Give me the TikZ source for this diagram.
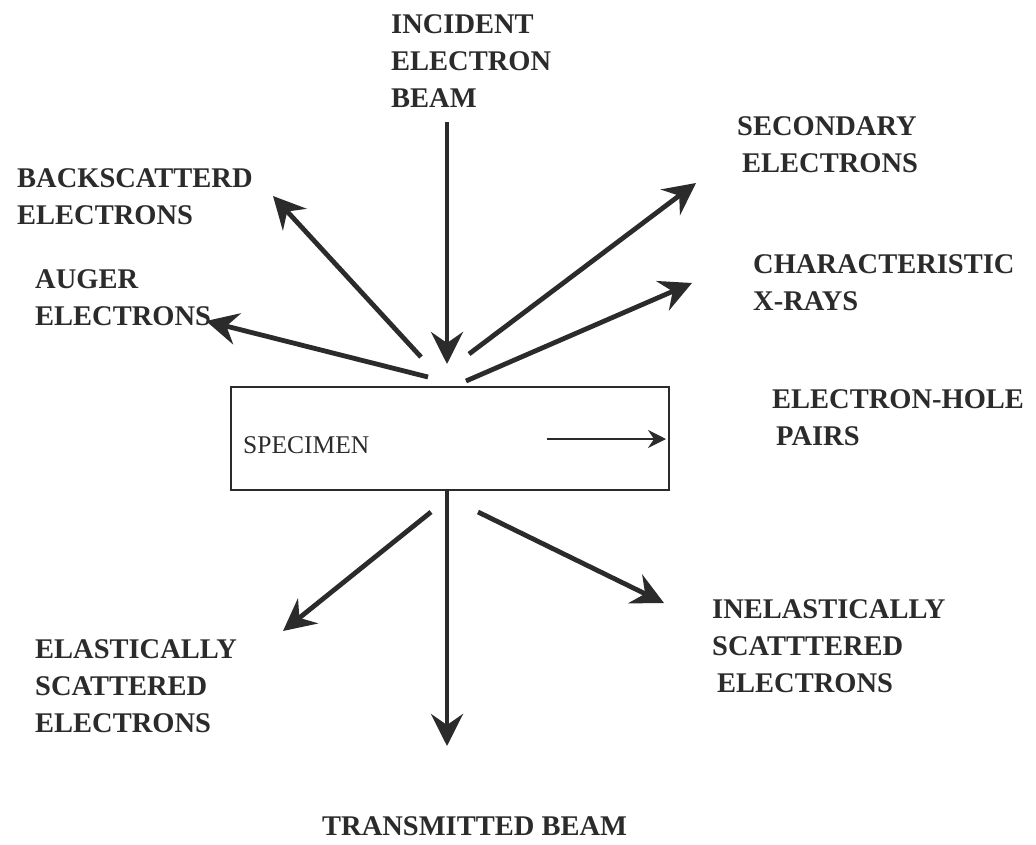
\documentclass[tikz,border=0pt]{standalone}
\usepackage{fontspec}
\setmainfont{Liberation Serif}
\usetikzlibrary{arrows.meta}
\definecolor{ink}{HTML}{2B2B2B}
\tikzset{
  lbl/.style={anchor=north west, inner sep=0pt, align=left, text=ink,
    font=\fontsize{28.5}{37}\selectfont\bfseries},
  ray/.style={draw=ink, line width=4.8pt,
    -{Stealth[length=32pt,width=32pt,inset=11pt]}},
  thin arrow/.style={draw=ink, line width=1.6pt,
    -{Stealth[length=18pt,width=18pt,inset=6pt]}},
  specbox/.style={draw=ink, line width=1.5pt, minimum width=438pt,
    minimum height=103pt, anchor=north west, inner sep=0pt},
}
\begin{document}
\begin{tikzpicture}[x=1pt,y=-1pt]
\useasboundingbox[fill=white] (0,0) rectangle (1036,844);
% specimen
\node[specbox] (spec) at (230,386) {};
\node[anchor=base west, inner sep=0pt, text=ink,
  font=\fontsize{25.5}{30}\selectfont] (spectext) at (243,453) {SPECIMEN};
% labels
\node[lbl] (incident) at (391,14) {INCIDENT\\ELECTRON\\BEAM};
\node[lbl] (secondary) at (737,116) {SECONDARY\\\hspace*{5pt}ELECTRONS};
\node[lbl] (backsc) at (17,168) {BACKSCATTERD\\ELECTRONS};
\node[lbl] (charac) at (753,254) {CHARACTERISTIC\\X-RAYS};
\node[lbl] (auger) at (35,269) {AUGER\\ELECTRONS};
\node[lbl] (ehp) at (772,389) {ELECTRON-HOLE\\\hspace*{4pt}PAIRS};
\node[lbl] (inel) at (712,599) {INELASTICALLY\\SCATTTERED\\\hspace*{5pt}ELECTRONS};
\node[lbl] (elast) at (35,639) {ELASTICALLY\\SCATTERED\\ELECTRONS};
\node[lbl] (trans) at (322,816) {TRANSMITTED BEAM};
% end points
\coordinate (inS) at (447,122);   \coordinate (inE) at (447,364);
\coordinate (bsS) at (421,357);   \coordinate (bsE) at (273,196);
\coordinate (auS) at (428,377);   \coordinate (auE) at (206,321);
\coordinate (seS) at (469,354);   \coordinate (seE) at (696,183);
\coordinate (chS) at (466,381);   \coordinate (chE) at (692,283);
\coordinate (trE) at (447,746);
\coordinate (elS) at (431,512);   \coordinate (elE) at (283,631);
\coordinate (ieS) at (478,512);   \coordinate (ieE) at (664,603);
\coordinate (ehS) at (547,439);   \coordinate (ehE) at (666,439);
% connectors
\draw[ray] (inS) -- (inE);
\draw[ray] (bsS) -- (bsE);
\draw[ray] (auS) -- (auE);
\draw[ray] (seS) -- (seE);
\draw[ray] (chS) -- (chE);
\draw[ray] (spec.south -| inS) -- (trE);
\draw[ray] (elS) -- (elE);
\draw[ray] (ieS) -- (ieE);
\draw[thin arrow] (ehS) -- (ehE);
\end{tikzpicture}
\end{document}
